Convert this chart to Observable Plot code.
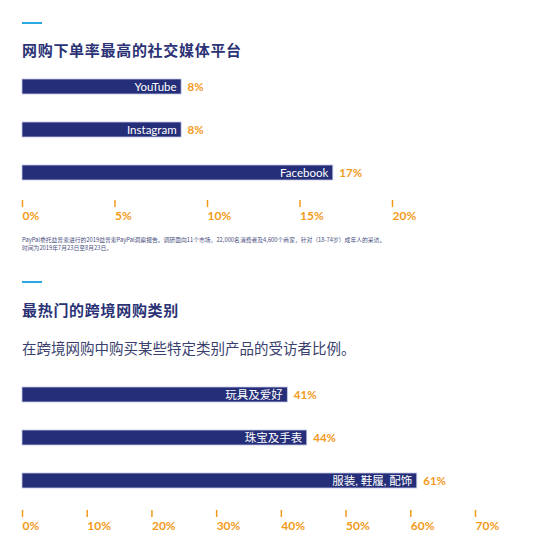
<!DOCTYPE html>
<html><head><meta charset="utf-8">
<script src="https://cdn.jsdelivr.net/npm/d3@7"></script>
<script src="https://cdn.jsdelivr.net/npm/@observablehq/plot@0.6"></script>
<style>
body{margin:0;background:#fff;}
#root{position:relative;width:545px;height:544px;overflow:hidden;font-family:Lato,"Noto Sans CJK SC",sans-serif;}
.acc{position:absolute;left:22px;width:20px;height:2px;background:#2aa8e0;}
.title{position:absolute;left:22px;font-size:15px;line-height:20px;font-weight:bold;color:#2b3275;letter-spacing:0.7px;font-family:"Noto Sans CJK SC",sans-serif;white-space:nowrap;}
.sub{position:absolute;left:22px;font-size:14.5px;line-height:20px;color:#3a3f6e;font-family:"Noto Sans CJK SC",sans-serif;white-space:nowrap;}
.note{position:absolute;left:22px;font-size:5.8px;line-height:8px;color:#4a4f80;font-family:"Noto Sans CJK SC",sans-serif;white-space:nowrap;}
.chart{position:absolute;left:0;}
</style></head>
<body><div id="root"></div>
<script>
const title1 = "网购下单率最高的社交媒体平台";
const platforms = ["YouTube", "Instagram", "Facebook"];
const platformValues = [8.6, 8.6, 16.8];
const platformLabels = ["8%", "8%", "17%"];
const ticks1 = [0, 5, 10, 15, 20];
const tickLabels1 = ["0%", "5%", "10%", "15%", "20%"];
const note1 = ["PayPal委托益普索进行的2019益普索PayPal洞察报告。调研面向11个市场，22,000名消费者及4,600个商家，针对（18-74岁）成年人的采访。", "时间为2019年7月23日至8月23日。"];

const title2 = "最热门的跨境网购类别";
const subtitle2 = "在跨境网购中购买某些特定类别产品的受访者比例。";
const categories = ["玩具及爱好", "珠宝及手表", "服装, 鞋履, 配饰"];
const categoryValues = [41, 44, 61];
const categoryLabels = ["41%", "44%", "61%"];
const ticks2 = [0, 10, 20, 30, 40, 50, 60, 70];
const tickLabels2 = ["0%", "10%", "20%", "30%", "40%", "50%", "60%", "70%"];

const NAVY = "#252e78", ORANGE = "#f39a1b";
const root = document.getElementById("root");
function add(cls, top, html){const d=document.createElement("div");d.className=cls;d.style.top=top+"px";d.innerHTML=html;root.appendChild(d);return d;}

function chart(names, values, labels, ticks, tickLabels, domain, xr, yr, height, axisY){
  const data = names.map((n,i)=>({name:n, value:values[i], label:labels[i]}));
  return Plot.plot({
    width:545, height, marginTop:0, marginLeft:0, marginRight:0, marginBottom: height-axisY,
    style:{fontFamily:'Lato,"Noto Sans CJK SC",sans-serif', color:ORANGE, background:"transparent"},
    x:{domain, range:xr},
    y:{domain:names, range:yr, paddingInner:28/43, paddingOuter:0, round:false, axis:null},
    marks:[
      Plot.barX(data,{x:"value", y:"name", fill:NAVY, stroke:"#c3c6e4", strokeWidth:0.8}),
      Plot.text(data,{x:"value", y:"name", text:"name", textAnchor:"end", dx:-5, fill:"white", fontSize:11.5}),
      Plot.text(data,{x:"value", y:"name", text:"label", textAnchor:"start", dx:6, fill:ORANGE, fontSize:11.5, fontWeight:"bold"}),
      Plot.axisX({ticks, tickFormat:d=>tickLabels[ticks.indexOf(d)], tickSize:7, tickPadding:4, stroke:ORANGE, strokeWidth:1.5, fill:ORANGE, fontSize:12, fontWeight:"bold", textAnchor:"start", label:null})
    ]
  });
}

add("acc", 22, "");
add("title", 40, title1);
const c1 = chart(platforms, platformValues, platformLabels, ticks1, tickLabels1, [0,20], [22,392], [19,120], 170, 140);
c1.classList.add("chart"); c1.style.top="60px"; root.appendChild(c1);
add("note", 236, note1.join("<br>"));

add("acc", 281, "");
add("title", 300, title2);
add("sub", 338, subtitle2);
const c2 = chart(categories, categoryValues, categoryLabels, ticks2, tickLabels2, [0,70], [22,475], [22,123], 179, 145);
c2.classList.add("chart"); c2.style.top="365px"; root.appendChild(c2);
</script></body></html>
